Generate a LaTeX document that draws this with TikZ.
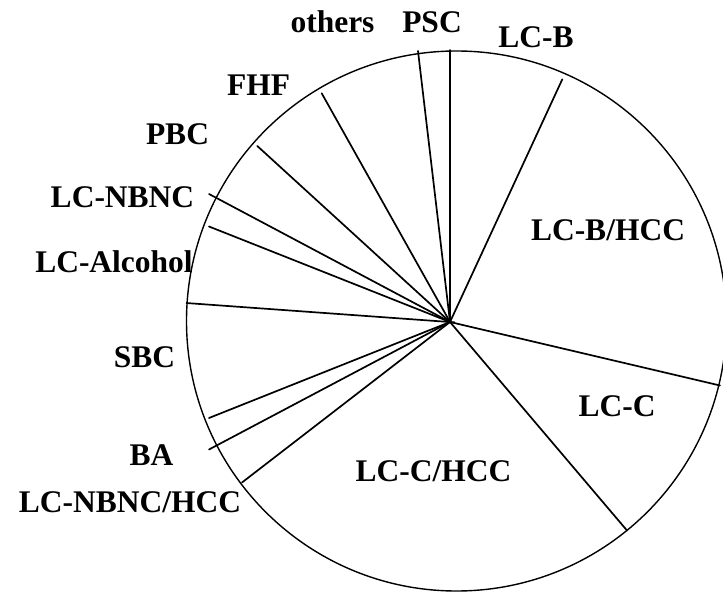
\documentclass[tikz,border=0pt]{standalone}
\usepackage{fontspec}
\setmainfont{Liberation Serif}
\begin{document}
\begin{tikzpicture}[x=1pt,y=-1pt,
  lbl/.style={anchor=base,inner sep=0pt,font=\fontsize{31.5}{36}\selectfont\bfseries},
  spoke/.style={line width=1.7pt},
  rim/.style={line width=1.4pt}]
\useasboundingbox (0,0) rectangle (723,593);
\clip (0,0) rectangle (723,593);
\coordinate (cc) at (456.5,321);
\coordinate (hub) at (450,322);
\coordinate (hubx) at (455,322.4);
\coordinate (s1) at (450,50);
\coordinate (s2) at (418,51);
\coordinate (s3) at (321.7,93.3);
\coordinate (s4) at (257.3,146);
\coordinate (s5) at (209,194);
\coordinate (s6) at (209,226.5);
\coordinate (s7) at (186,303);
\coordinate (s8) at (209,418);
\coordinate (s9) at (209,449.5);
\coordinate (s10) at (242,482.5);
\coordinate (s11) at (627,530.5);
\coordinate (s12) at (720,385.5);
\coordinate (s13) at (562.3,79.3);
\draw[rim] (cc) circle[radius=270pt];
\foreach \s in {s1,s2,s3,s4,s5,s6,s8,s9,s10,s11,s12,s13}
  \draw[spoke,line cap=round] (hub) -- (\s);
\draw[spoke] (s7) -- (hubx);
\node[lbl] (others) at (332.5,33) {others};
\node[lbl] (psc) at (432,33) {PSC};
\node[lbl] (lcb) at (536,48) {LC-B};
\node[lbl] (fhf) at (258.5,96) {FHF};
\node[lbl] (pbc) at (177.5,145) {PBC};
\node[lbl] (lcnbnc) at (122.5,208) {LC-NBNC};
\node[lbl] (lcalc) at (114,273) {LC-Alcohol};
\node[lbl] (sbc) at (144.5,368) {SBC};
\node[lbl] (ba) at (151.5,465) {BA};
\node[lbl] (lcnbnchcc) at (130,512) {LC-NBNC/HCC};
\node[lbl] (lcchcc) at (433.5,481) {LC-C/HCC};
\node[lbl] (lcc) at (617,417) {LC-C};
\node[lbl] (lcbhcc) at (608,240.7) {LC-B/HCC};
\end{tikzpicture}
\end{document}
